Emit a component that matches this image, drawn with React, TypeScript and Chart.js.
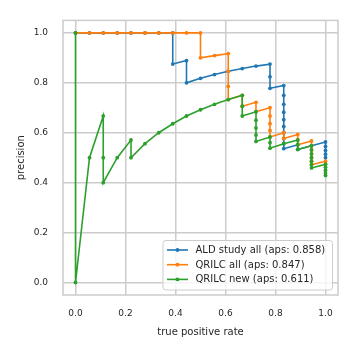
import React, { useEffect, useRef } from "react";
import { Chart, registerables } from "chart.js";

Chart.register(...registerables);

const SERIES_LABELS = [
  "ALD study all (aps: 0.858)",
  "QRILC all (aps: 0.847)",
  "QRILC new (aps: 0.611)",
];
const SERIES_COLORS = ["#1f77b4", "#ff7f0e", "#2ca02c"];
const X_TICKS = [0, 0.2, 0.4, 0.6, 0.8, 1.0];
const Y_TICKS = [0, 0.2, 0.4, 0.6, 0.8, 1.0];
const X_TITLE = "true positive rate";
const Y_TITLE = "precision";

const aldRecall = [
  0, 0.056, 0.111, 0.167, 0.222, 0.278, 0.333, 0.389, 0.389, 0.444, 0.444,
  0.5, 0.556, 0.611, 0.667, 0.722, 0.778, 0.778, 0.778, 0.833, 0.833, 0.833,
  0.833, 0.833, 0.833, 0.833, 0.833, 0.833, 0.833, 0.889, 0.889, 0.944, 1.0,
  1.0, 1.0, 1.0, 1.0,
];
const aldPrecision = [
  1, 1, 1, 1, 1, 1, 1, 1, 0.875, 0.889, 0.8, 0.818, 0.833, 0.846, 0.857,
  0.867, 0.875, 0.824, 0.778, 0.789, 0.75, 0.714, 0.682, 0.652, 0.625, 0.6,
  0.577, 0.556, 0.536, 0.552, 0.533, 0.548, 0.563, 0.545, 0.529, 0.514, 0.5,
];

const qrilcAllRecall = [
  0, 0.056, 0.111, 0.167, 0.222, 0.278, 0.333, 0.389, 0.444, 0.5, 0.5, 0.556,
  0.611, 0.611, 0.611, 0.611, 0.667, 0.667, 0.722, 0.722, 0.778, 0.778, 0.778,
  0.778, 0.778, 0.833, 0.833, 0.889, 0.889, 0.889, 0.944, 0.944, 0.944, 0.944,
  0.944, 0.944, 0.944, 1.0, 1.0,
];
const qrilcAllPrecision = [
  1, 1, 1, 1, 1, 1, 1, 1, 1, 1, 0.9, 0.909, 0.917, 0.846, 0.786, 0.733, 0.75,
  0.706, 0.722, 0.684, 0.7, 0.667, 0.636, 0.609, 0.583, 0.6, 0.577, 0.593,
  0.571, 0.552, 0.567, 0.548, 0.531, 0.515, 0.5, 0.486, 0.472, 0.486, 0.474,
];

const qrilcNewRecall = [
  0, 0, 0.056, 0.111, 0.111, 0.111, 0.167, 0.222, 0.222, 0.278, 0.333, 0.389,
  0.444, 0.5, 0.556, 0.611, 0.667, 0.667, 0.667, 0.722, 0.722, 0.722, 0.722,
  0.722, 0.778, 0.778, 0.778, 0.833, 0.889, 0.889, 0.889, 0.944, 0.944, 0.944,
  0.944, 0.944, 0.944, 0.944, 1.0, 1.0, 1.0, 1.0, 1.0,
];
const qrilcNewPrecision = [
  1, 0, 0.5, 0.667, 0.5, 0.4, 0.5, 0.571, 0.5, 0.556, 0.6, 0.636, 0.667,
  0.692, 0.714, 0.733, 0.75, 0.706, 0.667, 0.684, 0.65, 0.619, 0.591, 0.565,
  0.583, 0.56, 0.538, 0.556, 0.571, 0.552, 0.533, 0.548, 0.531, 0.515, 0.5,
  0.486, 0.472, 0.459, 0.474, 0.462, 0.45, 0.439, 0.429,
];

const SERIES_RECALL = [aldRecall, qrilcAllRecall, qrilcNewRecall];
const SERIES_PRECISION = [aldPrecision, qrilcAllPrecision, qrilcNewPrecision];

const FONT = '"DejaVu Sans", sans-serif';
const TEXT_COLOR = "#262626";
const GRID_COLOR = "#cccccc";

const framePlugin = {
  id: "frame",
  beforeDatasetsDraw(chart: any) {
    const { ctx, chartArea: a } = chart;
    ctx.save();
    ctx.strokeStyle = GRID_COLOR;
    ctx.lineWidth = 1.5;
    ctx.strokeRect(a.left, a.top, a.right - a.left, a.bottom - a.top);
    ctx.restore();
  },
};

const legendPlugin = {
  id: "boxLegend",
  afterDraw(chart: any) {
    const { ctx, chartArea: a } = chart;
    const w = 169.5;
    const h = 49.5;
    const x0 = a.right - 5.5 - w;
    const y0 = a.bottom - 5 - h;
    ctx.save();
    ctx.beginPath();
    const r = 3;
    ctx.moveTo(x0 + r, y0);
    ctx.lineTo(x0 + w - r, y0);
    ctx.arcTo(x0 + w, y0, x0 + w, y0 + r, r);
    ctx.lineTo(x0 + w, y0 + h - r);
    ctx.arcTo(x0 + w, y0 + h, x0 + w - r, y0 + h, r);
    ctx.lineTo(x0 + r, y0 + h);
    ctx.arcTo(x0, y0 + h, x0, y0 + h - r, r);
    ctx.lineTo(x0, y0 + r);
    ctx.arcTo(x0, y0, x0 + r, y0, r);
    ctx.closePath();
    ctx.fillStyle = "rgba(255,255,255,0.8)";
    ctx.fill();
    ctx.strokeStyle = GRID_COLOR;
    ctx.lineWidth = 1;
    ctx.stroke();
    ctx.font = "10px " + FONT;
    ctx.textBaseline = "middle";
    ctx.textAlign = "left";
    chart.data.datasets.forEach((ds: any, i: number) => {
      const y = y0 + 9.5 + i * 14.7;
      ctx.strokeStyle = ds.borderColor;
      ctx.lineWidth = 1.6;
      ctx.beginPath();
      ctx.moveTo(x0 + 4, y);
      ctx.lineTo(x0 + 25, y);
      ctx.stroke();
      ctx.fillStyle = ds.borderColor;
      ctx.beginPath();
      ctx.arc(x0 + 14.5, y, 1.9, 0, Math.PI * 2);
      ctx.fill();
      ctx.fillStyle = TEXT_COLOR;
      ctx.fillText(ds.label, x0 + 32.5, y + 0.5);
    });
    ctx.restore();
  },
};

export default function App() {
  const canvasRef = useRef<HTMLCanvasElement | null>(null);

  useEffect(() => {
    const canvas = canvasRef.current;
    if (!canvas) return;
    const datasets = SERIES_LABELS.map((label, i) => ({
      label,
      data: SERIES_RECALL[i].map((x, j) => ({ x, y: SERIES_PRECISION[i][j] })),
      borderColor: SERIES_COLORS[i],
      backgroundColor: SERIES_COLORS[i],
      borderWidth: 1.6,
      pointRadius: 1.9,
      pointBorderWidth: 0,
      pointHoverRadius: 0,
      tension: 0,
      fill: false,
      order: SERIES_LABELS.length - i,
    }));

    const chart = new Chart(canvas, {
      type: "line",
      data: { datasets },
      plugins: [framePlugin, legendPlugin],
      options: {
        animation: false,
        responsive: false,
        devicePixelRatio: 1,
        layout: { padding: { left: 0, top: 14, right: 14, bottom: 0 } },
        plugins: {
          legend: { display: false },
          tooltip: { enabled: false },
        },
        scales: {
          x: {
            type: "linear",
            min: -0.05,
            max: 1.05,
            afterBuildTicks: (scale: any) => {
              scale.ticks = X_TICKS.map((v) => ({ value: v }));
            },
            afterFit: (scale: any) => {
              scale.height = 57;
            },
            grid: { color: GRID_COLOR, lineWidth: 1.5, drawTicks: false },
            border: { display: false },
            ticks: {
              padding: 13,
              color: TEXT_COLOR,
              font: { family: FONT, size: 9 },
              maxRotation: 0,
              callback: (v: any) => Number(v).toFixed(1),
            },
            title: {
              display: true,
              text: X_TITLE,
              color: TEXT_COLOR,
              font: { family: FONT, size: 10 },
              padding: { top: 0, bottom: 14 },
            },
          },
          y: {
            type: "linear",
            min: -0.05,
            max: 1.05,
            afterBuildTicks: (scale: any) => {
              scale.ticks = Y_TICKS.map((v) => ({ value: v }));
            },
            afterFit: (scale: any) => {
              scale.width = 63;
            },
            grid: { color: GRID_COLOR, lineWidth: 1.5, drawTicks: false },
            border: { display: false },
            ticks: {
              padding: 15,
              color: TEXT_COLOR,
              font: { family: FONT, size: 9 },
              callback: (v: any) => Number(v).toFixed(1),
            },
            title: {
              display: true,
              text: Y_TITLE,
              color: TEXT_COLOR,
              font: { family: FONT, size: 10 },
              padding: { top: 15, bottom: 0 },
            },
          },
        },
      },
    } as any);
    return () => chart.destroy();
  }, []);

  return (
    <div style={{ position: "fixed", left: 0, top: 0, width: 352, height: 352, background: "#fff" }}>
      <canvas ref={canvasRef} width={352} height={352} style={{ display: "block" }} />
    </div>
  );
}
